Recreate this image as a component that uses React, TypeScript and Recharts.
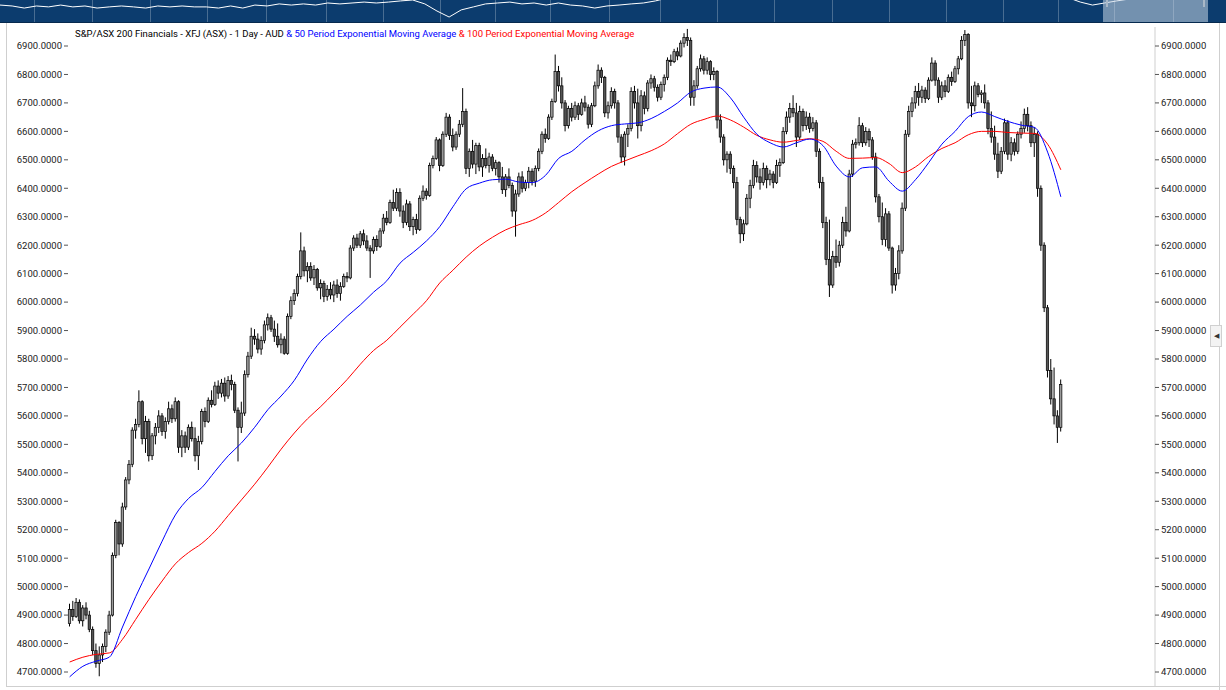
import React from 'react';
import { ComposedChart, LineChart, Bar, Line, XAxis, YAxis } from 'recharts';

// daily candles, XFJ
const opens = [
  4870, 4920, 4895, 4945, 4880, 4925, 4900, 4850, 4775, 4730,
  4760, 4790, 4840, 4900, 5110, 5225, 5150, 5280, 5375, 5430,
  5550, 5570, 5650, 5520, 5580, 5460, 5530, 5560, 5600, 5545,
  5580, 5625, 5590, 5650, 5490, 5530, 5490, 5560, 5520, 5460,
  5510, 5615, 5580, 5655, 5640, 5705, 5680, 5715, 5670, 5725,
  5710, 5620, 5560, 5610, 5745, 5810, 5880, 5870, 5835, 5865,
  5920, 5945, 5905, 5880, 5850, 5870, 5820, 5950, 6005, 6030,
  6090, 6180, 6110, 6125, 6085, 6115, 6050, 6065, 6020, 6045,
  6025, 6060, 6030, 6055, 6090, 6085, 6190, 6225, 6200, 6240,
  6215, 6190, 6180, 6220, 6195, 6250, 6295, 6280, 6350, 6330,
  6385, 6320, 6280, 6345, 6265, 6290, 6255, 6365, 6390, 6375,
  6480, 6505, 6570, 6480, 6590, 6650, 6585, 6545, 6590, 6625,
  6670, 6470, 6530, 6485, 6550, 6475, 6505, 6480, 6510, 6470,
  6490, 6440, 6395, 6440, 6410, 6320, 6380, 6440, 6400, 6420,
  6460, 6425, 6470, 6530, 6590, 6575, 6650, 6705, 6810, 6760,
  6700, 6620, 6680, 6650, 6690, 6660, 6700, 6685, 6625, 6690,
  6760, 6815, 6790, 6665, 6690, 6740, 6700, 6580, 6510, 6590,
  6610, 6740, 6700, 6620, 6725, 6680, 6770, 6785, 6755, 6720,
  6765, 6790, 6850, 6845, 6880, 6865, 6910, 6930, 6920, 6720,
  6760, 6820, 6855, 6815, 6845, 6800, 6810, 6640, 6580, 6500,
  6520, 6470, 6420, 6290, 6240, 6275, 6365, 6410, 6480, 6440,
  6420, 6470, 6430, 6450, 6420, 6480, 6490, 6600, 6650, 6680,
  6665, 6580, 6670, 6620, 6650, 6610, 6630, 6530, 6420, 6280,
  6150, 6060, 6160, 6140, 6200, 6280, 6250, 6450, 6555, 6560,
  6620, 6560, 6600, 6570, 6510, 6370, 6300, 6220, 6310, 6190,
  6060, 6100, 6180, 6330, 6590, 6670, 6700, 6740, 6720, 6745,
  6715, 6780, 6840, 6780, 6720, 6760, 6740, 6790, 6775, 6820,
  6855, 6920, 6940, 6700, 6690, 6760, 6730, 6735, 6700, 6610,
  6580, 6520, 6460, 6530, 6630, 6520, 6560, 6530, 6590, 6610,
  6660, 6620, 6560, 6590, 6400, 6200, 5980, 5760, 5660, 5600, 5560,
];
const highs = [
  4940, 4950, 4960, 4955, 4935, 4945, 4915, 4860, 4800, 4790,
  4800, 4850, 4915, 5120, 5235, 5230, 5295, 5385, 5445, 5560,
  5590, 5690, 5655, 5600, 5590, 5540, 5575, 5620, 5610, 5595,
  5650, 5640, 5665, 5655, 5550, 5545, 5570, 5580, 5560, 5530,
  5625, 5630, 5665, 5690, 5720, 5725, 5730, 5735, 5740, 5745,
  5720, 5630, 5650, 5760, 5825, 5910, 5905, 5890, 5880, 5935,
  5960, 5955, 5935, 5925, 5890, 5880, 5960, 6020, 6045, 6100,
  6245, 6195, 6140, 6140, 6130, 6120, 6080, 6075, 6060, 6070,
  6075, 6080, 6070, 6100, 6105, 6200, 6235, 6240, 6250, 6255,
  6235, 6200, 6230, 6235, 6260, 6310, 6320, 6360, 6395, 6400,
  6400, 6340, 6360, 6355, 6300, 6310, 6375, 6410, 6400, 6490,
  6515, 6580, 6575, 6600, 6665, 6660, 6610, 6600, 6640, 6752,
  6680, 6540, 6570, 6560, 6560, 6520, 6540, 6525, 6520, 6500,
  6495, 6475, 6450, 6470, 6420, 6395, 6455, 6460, 6430, 6475,
  6470, 6480, 6540, 6600, 6610, 6660, 6715, 6870, 6830, 6790,
  6710, 6690, 6700, 6705, 6700, 6715, 6725, 6695, 6700, 6775,
  6835, 6825, 6795, 6705, 6755, 6750, 6710, 6590, 6600, 6625,
  6755, 6760, 6750, 6745, 6740, 6780, 6800, 6795, 6765, 6775,
  6800, 6860, 6870, 6890, 6895, 6920, 6945, 6960, 6930, 6780,
  6830, 6870, 6865, 6860, 6850, 6825, 6815, 6660, 6590, 6530,
  6530, 6480, 6440, 6300, 6290, 6380, 6430, 6500, 6495, 6470,
  6490, 6480, 6465, 6460, 6500, 6505, 6615, 6670, 6700, 6727,
  6700, 6690, 6680, 6670, 6665, 6650, 6640, 6540, 6440, 6300,
  6290, 6180, 6220, 6215, 6300, 6335, 6465, 6570, 6575, 6650,
  6630, 6615, 6610, 6580, 6525, 6380, 6350, 6330, 6320, 6195,
  6120, 6200, 6350, 6605, 6690, 6720, 6760, 6770, 6760, 6755,
  6790, 6860, 6850, 6790, 6775, 6780, 6800, 6810, 6830, 6865,
  6935, 6956, 6945, 6760, 6775, 6770, 6745, 6765, 6710, 6670,
  6620, 6560, 6545, 6645, 6640, 6580, 6575, 6600, 6635, 6680,
  6685, 6635, 6615, 6600, 6410, 6210, 5990, 5800, 5770, 5620, 5728,
];
const lows = [
  4860, 4880, 4890, 4870, 4860, 4885, 4840, 4760, 4715, 4685,
  4735, 4770, 4830, 4895, 5100, 5110, 5140, 5270, 5360, 5420,
  5520, 5560, 5500, 5470, 5440, 5445, 5500, 5540, 5530, 5520,
  5570, 5575, 5580, 5470, 5455, 5470, 5480, 5510, 5440, 5410,
  5500, 5560, 5575, 5630, 5635, 5660, 5665, 5650, 5660, 5690,
  5610, 5440, 5540, 5600, 5735, 5800, 5850, 5820, 5815, 5855,
  5900, 5895, 5860, 5840, 5820, 5815, 5815, 5940, 5990, 6020,
  6080, 6090, 6070, 6075, 6060, 6040, 6010, 6000, 6005, 6010,
  6000, 6015, 6005, 6050, 6070, 6080, 6180, 6190, 6190, 6200,
  6180, 6085, 6170, 6180, 6190, 6240, 6270, 6275, 6320, 6320,
  6300, 6260, 6270, 6250, 6235, 6240, 6250, 6355, 6360, 6370,
  6470, 6500, 6460, 6475, 6580, 6570, 6530, 6535, 6580, 6615,
  6450, 6440, 6470, 6450, 6460, 6440, 6470, 6455, 6460, 6445,
  6420, 6380, 6370, 6400, 6300, 6230, 6370, 6385, 6390, 6400,
  6410, 6405, 6460, 6520, 6560, 6570, 6640, 6700, 6740, 6680,
  6600, 6610, 6635, 6640, 6640, 6655, 6670, 6610, 6615, 6685,
  6750, 6770, 6650, 6645, 6680, 6680, 6560, 6490, 6480, 6545,
  6600, 6680, 6575, 6600, 6660, 6670, 6750, 6740, 6705, 6710,
  6740, 6780, 6830, 6840, 6850, 6860, 6895, 6900, 6690, 6690,
  6750, 6810, 6800, 6800, 6780, 6780, 6610, 6560, 6480, 6455,
  6450, 6400, 6270, 6207, 6215, 6270, 6330, 6400, 6420, 6395,
  6410, 6400, 6410, 6400, 6415, 6440, 6485, 6590, 6630, 6650,
  6545, 6570, 6600, 6605, 6595, 6600, 6510, 6400, 6260, 6130,
  6018, 6050, 6120, 6125, 6190, 6230, 6245, 6440, 6540, 6550,
  6545, 6550, 6545, 6500, 6350, 6280, 6200, 6195, 6180, 6030,
  6040, 6080, 6170, 6320, 6580, 6650, 6680, 6690, 6700, 6700,
  6710, 6775, 6760, 6700, 6710, 6720, 6735, 6760, 6770, 6800,
  6850, 6900, 6680, 6650, 6670, 6720, 6700, 6680, 6590, 6560,
  6500, 6436, 6450, 6520, 6500, 6495, 6515, 6520, 6575, 6595,
  6600, 6545, 6510, 6370, 6180, 5965, 5735, 5640, 5570, 5505, 5545,
];
const closes = [
  4920, 4895, 4945, 4880, 4925, 4900, 4850, 4775, 4730, 4760,
  4790, 4840, 4900, 5110, 5225, 5150, 5280, 5375, 5430, 5550,
  5570, 5650, 5520, 5580, 5460, 5530, 5560, 5600, 5545, 5580,
  5625, 5590, 5650, 5490, 5530, 5490, 5560, 5520, 5460, 5510,
  5615, 5580, 5655, 5640, 5705, 5680, 5715, 5670, 5725, 5710,
  5620, 5560, 5610, 5745, 5810, 5880, 5870, 5835, 5865, 5920,
  5945, 5905, 5880, 5850, 5870, 5820, 5950, 6005, 6030, 6090,
  6180, 6110, 6125, 6085, 6115, 6050, 6065, 6020, 6045, 6025,
  6060, 6030, 6055, 6090, 6085, 6190, 6225, 6200, 6240, 6215,
  6190, 6180, 6220, 6195, 6250, 6295, 6280, 6350, 6330, 6385,
  6320, 6280, 6345, 6265, 6290, 6255, 6365, 6390, 6375, 6480,
  6505, 6570, 6480, 6590, 6650, 6585, 6545, 6590, 6625, 6670,
  6470, 6530, 6485, 6550, 6475, 6505, 6480, 6510, 6470, 6490,
  6440, 6395, 6440, 6410, 6320, 6380, 6440, 6400, 6420, 6460,
  6425, 6470, 6530, 6590, 6575, 6650, 6705, 6810, 6760, 6700,
  6620, 6680, 6650, 6690, 6660, 6700, 6685, 6625, 6690, 6760,
  6815, 6790, 6665, 6690, 6740, 6700, 6580, 6510, 6590, 6610,
  6740, 6700, 6620, 6725, 6680, 6770, 6785, 6755, 6720, 6765,
  6790, 6850, 6845, 6880, 6865, 6910, 6930, 6920, 6720, 6760,
  6820, 6855, 6815, 6845, 6800, 6810, 6640, 6580, 6500, 6520,
  6470, 6420, 6290, 6240, 6275, 6365, 6410, 6480, 6440, 6420,
  6470, 6430, 6450, 6420, 6480, 6490, 6600, 6650, 6680, 6665,
  6580, 6670, 6620, 6650, 6610, 6630, 6530, 6420, 6280, 6150,
  6060, 6160, 6140, 6200, 6280, 6250, 6450, 6555, 6560, 6620,
  6560, 6600, 6570, 6510, 6370, 6300, 6220, 6310, 6190, 6060,
  6100, 6180, 6330, 6590, 6670, 6700, 6740, 6720, 6745, 6715,
  6780, 6840, 6780, 6720, 6760, 6740, 6790, 6775, 6820, 6855,
  6920, 6940, 6700, 6690, 6760, 6730, 6735, 6700, 6610, 6580,
  6520, 6460, 6530, 6630, 6520, 6560, 6530, 6590, 6610, 6660,
  6620, 6560, 6590, 6400, 6200, 5980, 5760, 5660, 5600, 5560, 5710,
];

// moving averages, read every 4th bar
const ema50 = [
  4683, 4720, 4738, 4752, 4858, 4965, 5062, 5160, 5252, 5310,
  5348, 5405, 5460, 5505, 5560, 5622, 5670, 5725, 5800, 5862,
  5905, 5950, 5990, 6035, 6075, 6137, 6175, 6215, 6265, 6335,
  6398, 6418, 6430, 6432, 6422, 6420, 6445, 6505, 6530, 6570,
  6602, 6620, 6626, 6630, 6645, 6670, 6700, 6738, 6752, 6756,
  6718, 6650, 6590, 6560, 6545, 6560, 6573, 6550, 6478, 6440,
  6472, 6475, 6425, 6390, 6430, 6490, 6555, 6600, 6652, 6668,
  6652, 6635, 6622, 6614, 6527, 6370,
];
const ema100 = [
  4735, 4752, 4762, 4767, 4815, 4885, 4955, 5020, 5080, 5120,
  5152, 5195, 5250, 5305, 5360, 5420, 5483, 5540, 5590, 5633,
  5680, 5728, 5782, 5830, 5866, 5912, 5958, 6005, 6067, 6112,
  6158, 6197, 6228, 6254, 6272, 6287, 6313, 6350, 6388, 6420,
  6450, 6477, 6496, 6514, 6532, 6556, 6592, 6625, 6642, 6654,
  6640, 6615, 6586, 6570, 6562, 6568, 6574, 6565, 6530, 6505,
  6506, 6508, 6487, 6455, 6475, 6512, 6540, 6560, 6588, 6600,
  6600, 6596, 6594, 6593, 6555, 6465,
];

const priceTicks = [
  4700, 4800, 4900, 5000, 5100, 5200, 5300, 5400, 5500, 5600, 5700, 5800,
  5900, 6000, 6100, 6200, 6300, 6400, 6500, 6600, 6700, 6800, 6900,
];
const monthTicks = [8, 38, 66, 97, 127, 158, 188, 218, 247, 275, 305];

// long history shown in the navigator strip (relative level)
const overview = [
  78, 74, 65, 74, 70, 78, 70, 74, 65, 70,
  74, 70, 65, 74, 70, 74, 70, 70, 65, 74,
  65, 78, 74, 83, 78, 83, 78, 87, 83, 87,
  91, 87, 91, 96, 100, 83, 52, 26, 57, 70,
  83, 87, 91, 83, 87, 78, 87, 78, 74, 65,
  74, 78, 83, 87, 96, 109, 115, 120, 125, 118,
  122, 128, 125, 120, 118, 124, 130, 126, 120, 116,
  122, 128, 132, 126, 120, 118, 124, 128, 122, 118,
  115, 120, 125, 118, 112, 108, 115, 120, 110, 91,
  78, 87, 96, 104, 112, 118, 115, 110, 112, 118,
  120, 115,
];

const SLOTS = 329;
const rows: any[] = [];
for (let i = 0; i < SLOTS; i++) {
  if (i < closes.length) {
    rows.push({
      i,
      open: opens[i],
      high: highs[i],
      low: lows[i],
      close: closes[i],
      range: [lows[i], highs[i]],
      e50: i % 4 === 0 ? ema50[i / 4] : null,
      e100: i % 4 === 0 ? ema100[i / 4] : null,
    });
  } else {
    rows.push({ i });
  }
}
const navRows = overview.map((v, i) => ({ i, v }));

const navGrid = [34, 92, 150, 207, 266, 326, 383, 440, 495, 550, 609, 660, 717, 774, 832, 889, 946, 1003, 1058, 1114, 1173];

const Candle = (props: any) => {
  const { x, y, width, height, payload } = props;
  if (!payload || payload.open == null) return null;
  const top = Math.min(y, y + height);
  const bottom = Math.max(y, y + height);
  const span = payload.high - payload.low || 1;
  const toY = (v: number) => top + ((payload.high - v) / span) * (bottom - top);
  const cx = x + width / 2;
  const oy = toY(payload.open);
  const cy = toY(payload.close);
  const up = payload.close >= payload.open;
  const bt = Math.min(oy, cy);
  const bh = Math.max(Math.abs(cy - oy), 1);
  return (
    <g>
      <line x1={cx} x2={cx} y1={top} y2={bottom} stroke="#000" strokeWidth={1} />
      <rect x={cx - 1.2} y={bt} width={2.4} height={bh} fill={up ? '#9a9a9a' : '#555'} stroke="#000" strokeWidth={0.7} />
    </g>
  );
};

const axisTick = { fontSize: 9.5, fill: '#222', fontFamily: 'Roboto, sans-serif' };
const fmt = (v: number) => v.toFixed(4);

export default function App() {
  return (
    <div style={{ position: 'absolute', left: 0, top: 0, width: 1226, height: 690, overflow: 'hidden', background: '#fff', fontFamily: 'Roboto, sans-serif' }}>
      {/* navigator */}
      <div style={{ position: 'absolute', left: 0, top: 0, width: 1226, height: 22, background: '#0c3c6e', borderBottom: '1px solid #06294e' }}>
        {navGrid.map((x) => (
          <div key={x} style={{ position: 'absolute', left: x, top: 0, width: 1, height: 22, background: 'rgba(255,255,255,0.25)' }} />
        ))}
        <div style={{ position: 'absolute', left: 0, top: 0 }}>
          <LineChart width={1226} height={23} data={navRows} margin={{ top: 0, right: 0, bottom: 0, left: 0 }}>
            <XAxis dataKey="i" type="number" domain={[0, 101]} hide />
            <YAxis domain={[0, 100]} allowDataOverflow hide />
            <Line dataKey="v" stroke="#fff" strokeWidth={1} dot={false} isAnimationActive={false} />
          </LineChart>
        </div>
        <div style={{ position: 'absolute', left: 1103, top: 0, width: 105, height: 22, background: 'rgba(200,215,230,0.55)' }} />
        <div style={{ position: 'absolute', left: 1106, top: 0, width: 2, height: 7, background: '#a9b8c8' }} />
        <div style={{ position: 'absolute', left: 1203, top: 0, width: 2, height: 7, background: '#a9b8c8' }} />
      </div>

      {/* frame */}
      <div style={{ position: 'absolute', left: 6, top: 23, width: 1, height: 663, background: '#cfcfcf' }} />
      <div style={{ position: 'absolute', left: 1219, top: 23, width: 1, height: 667, background: '#cfcfcf' }} />
      <div style={{ position: 'absolute', left: 6, top: 686, width: 1220, height: 1, background: '#cfcfcf' }} />

      <div style={{ position: 'absolute', left: 0, top: 0 }}>
        <ComposedChart width={1226} height={690} data={rows} margin={{ top: 27, right: 0, bottom: 0, left: 0 }}>
          <XAxis dataKey="i" type="category" ticks={monthTicks} interval={0} tick={false} tickLine={{ stroke: '#aaa' }} tickSize={4} axisLine={false} height={4} />
          <YAxis yAxisId="left" orientation="left" width={68} domain={[4650.8, 6966.8]} allowDataOverflow ticks={priceTicks} tickFormatter={fmt} axisLine={false} tickLine={{ stroke: '#555' }} tickSize={4} tickMargin={2} tick={axisTick} />
          <YAxis yAxisId="right" orientation="right" width={71} domain={[4650.8, 6966.8]} allowDataOverflow ticks={priceTicks} tickFormatter={fmt} axisLine={{ stroke: '#cfcfcf' }} tickLine={{ stroke: '#555' }} tickSize={4} tickMargin={2} tick={axisTick} />
          <Bar yAxisId="left" dataKey="range" barSize={3} isAnimationActive={false} shape={(p: any) => <Candle {...p} />} />
          <Line yAxisId="right" dataKey="e100" type="monotone" stroke="#ff0000" strokeWidth={1} dot={false} connectNulls isAnimationActive={false} />
          <Line yAxisId="right" dataKey="e50" type="monotone" stroke="#0000ff" strokeWidth={1} dot={false} connectNulls isAnimationActive={false} />
        </ComposedChart>
      </div>

      <div style={{ position: 'absolute', left: 75, top: 27, fontSize: 9.5, lineHeight: '13px', whiteSpace: 'nowrap', color: '#000' }}>
        S&amp;P/ASX 200 Financials - XFJ (ASX) - 1 Day - AUD
        <span style={{ color: '#0000ff' }}> &amp; 50 Period Exponential Moving Average</span>
        <span style={{ color: '#ff0000' }}> &amp; 100 Period Exponential Moving Average</span>
      </div>

      <div style={{ position: 'absolute', left: 1210, top: 325, width: 10, height: 20, background: '#f3f3f3', border: '1px solid #d0d0d0', fontSize: 7, lineHeight: '20px', textAlign: 'center', color: '#333' }}>
        ◀
      </div>
    </div>
  );
}
